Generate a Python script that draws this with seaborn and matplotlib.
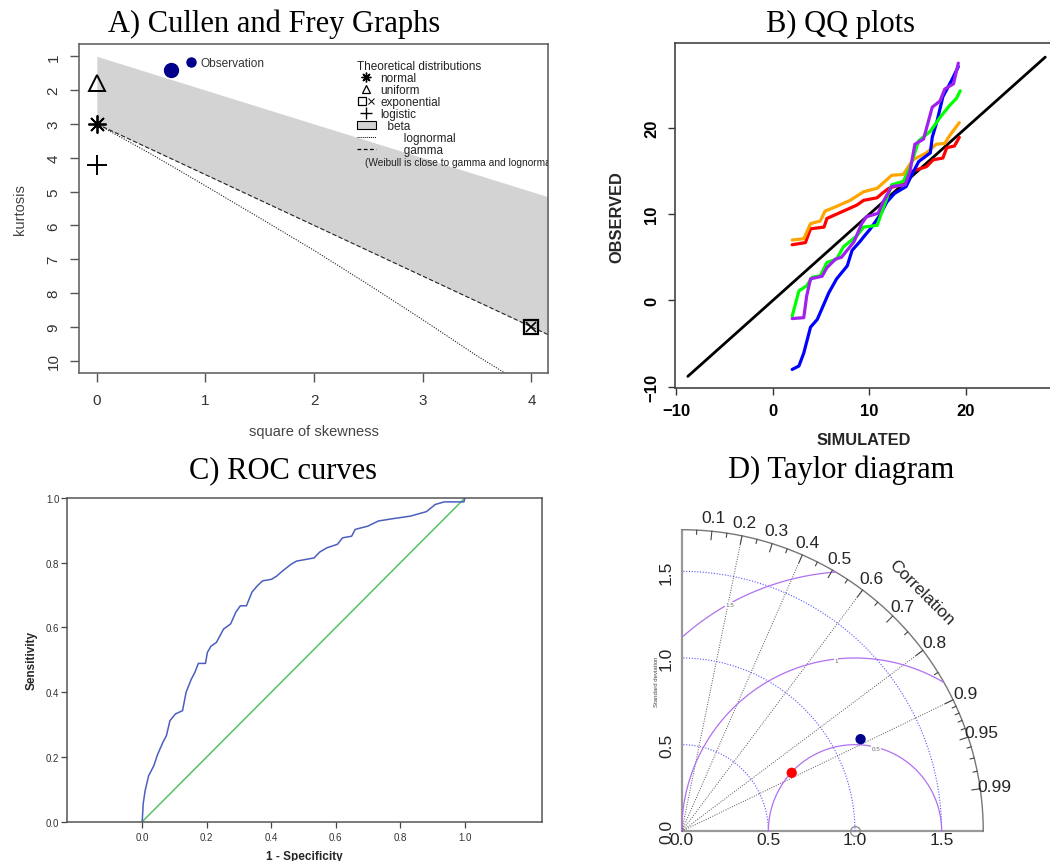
import matplotlib
matplotlib.use("Agg")
import matplotlib.pyplot as plt
import numpy as np
import seaborn as sns
from matplotlib.lines import Line2D
from matplotlib.patches import Patch
from matplotlib.legend_handler import HandlerTuple

# --------------------------------------------------------------------------- #
# Data
# --------------------------------------------------------------------------- #
# A) Cullen and Frey
obs_skew2, obs_kurt = [0.68], [1.4]
dist_names = ["normal", "uniform", "exponential", "logistic"]
dist_skew2 = [0.0, 0.0, 4.0, 0.0]
dist_kurt = [3.0, 1.8, 9.0, 4.2]
beta_x = [0.0, 4.2]
beta_upper = [1.0, 5.2]
gamma_x = [0.0, 4.2]
gamma_y = [3.0, 9.3]
lognorm_x = [0.0, 0.5, 1.0, 1.5, 2.0, 2.5, 3.0, 3.5, 3.8]
lognorm_y = [3.0, 3.89, 4.83, 5.78, 6.74, 7.75, 8.79, 9.86, 10.45]

# B) QQ plots (simulated vs observed)
qq_line = [-8.8, 28.2]
red_sim = [2.0, 3.37, 3.9, 5.3, 5.6, 7.3, 8.7, 9.4, 10.8, 11.3, 12.0, 13.5, 14.0,
           14.5, 15.9, 16.6, 17.6, 18.0, 18.8, 19.3]
red_obs = [6.45, 6.7, 8.3, 8.5, 9.5, 10.35, 11.05, 11.6, 11.9, 12.4, 13.0, 13.5,
           14.3, 15.0, 15.5, 16.3, 16.5, 17.7, 17.9, 18.9]
orange_sim = [2.0, 3.2, 3.9, 4.9, 5.4, 6.6, 8.0, 9.4, 10.8, 11.4, 12.3, 13.5, 14.5,
              15.9, 16.9, 17.8, 18.3, 19.3]
orange_obs = [7.0, 7.15, 8.9, 9.2, 10.35, 10.9, 11.6, 12.6, 13.0, 13.6, 14.5, 14.6,
              16.3, 17.1, 18.1, 18.2, 19.1, 20.6]
blue_sim = [2.0, 2.7, 3.2, 3.9, 4.6, 5.8, 6.6, 7.7, 8.2, 9.0, 9.5, 10.1, 11.1, 11.8,
            12.6, 13.8, 14.4, 15.1, 16.3, 16.5, 17.0, 17.6, 18.5, 19.2]
blue_obs = [-8.0, -7.6, -6.1, -3.1, -2.2, 0.9, 2.5, 4.0, 5.8, 6.8, 7.5, 8.3, 9.9,
            11.4, 12.4, 13.2, 14.6, 16.1, 17.1, 18.9, 20.8, 23.6, 25.5, 27.1]
green_sim = [2.0, 2.7, 3.5, 4.1, 4.9, 5.6, 6.6, 7.3, 8.7, 9.4, 10.8, 11.3, 12.3,
             13.5, 14.2, 15.1, 16.3, 17.3, 18.3, 19.0, 19.4]
green_obs = [-1.8, 1.1, 1.7, 2.7, 2.85, 4.4, 4.8, 6.2, 7.5, 8.5, 8.7, 10.3, 13.4,
             13.8, 15.4, 18.5, 19.6, 21.2, 22.6, 23.4, 24.3]
purple_sim = [2.0, 3.2, 3.5, 3.9, 5.1, 5.6, 6.5, 7.1, 8.4, 9.2, 9.7, 10.9, 11.4,
              12.3, 13.7, 14.2, 14.7, 15.6, 16.5, 17.3, 17.8, 18.7, 19.2]
purple_obs = [-2.1, -2.0, 0.5, 2.5, 2.8, 3.8, 4.8, 5.0, 6.8, 8.9, 9.7, 10.1, 11.4,
              13.2, 13.4, 15.0, 18.1, 18.7, 22.4, 23.1, 24.5, 25.1, 27.5]

# C) ROC curve
roc_fpr = [0.0, 0.003, 0.009, 0.02, 0.036, 0.047, 0.064, 0.075, 0.086, 0.103, 0.125,
           0.136, 0.152, 0.163, 0.174, 0.196, 0.202, 0.213, 0.23, 0.252, 0.274, 0.29,
           0.304, 0.323, 0.34, 0.357, 0.373, 0.401, 0.417, 0.434, 0.461, 0.478, 0.506,
           0.533, 0.55, 0.572, 0.605, 0.621, 0.649, 0.66, 0.699, 0.732, 0.776, 0.831,
           0.881, 0.908, 0.936, 0.997, 1.0]
roc_tpr = [0.0, 0.055, 0.096, 0.142, 0.173, 0.206, 0.245, 0.266, 0.312, 0.333, 0.343,
           0.40, 0.44, 0.461, 0.489, 0.489, 0.523, 0.542, 0.554, 0.595, 0.611, 0.647,
           0.667, 0.667, 0.709, 0.729, 0.744, 0.749, 0.759, 0.774, 0.795, 0.805, 0.81,
           0.815, 0.833, 0.846, 0.857, 0.877, 0.882, 0.903, 0.913, 0.929, 0.936, 0.944,
           0.958, 0.98, 0.988, 0.988, 1.0]
diag = [0.0, 1.0]

# D) Taylor diagram
ref_sd = 1.0
model_sd = [1.161, 0.719]
model_cor = [0.889, 0.883]
model_col = ["#00008B", "#FF0000"]
sd_max = 1.74
sd_ticks = [0.0, 0.5, 1.0, 1.5]
rms_levels = [0.5, 1.0, 1.5]
ray_cor = [0.2, 0.4, 0.6, 0.8, 0.9]
cor_labels = [0.1, 0.2, 0.3, 0.4, 0.5, 0.6, 0.7, 0.8, 0.9, 0.95, 0.99]

# --------------------------------------------------------------------------- #
# Style
# --------------------------------------------------------------------------- #
sns.set_theme(style="ticks")
plt.rcParams["font.family"] = ["Liberation Sans", "DejaVu Sans"]
W, H = 1050, 862
SERIF = "Liberation Serif"


def px_axes(fig, left, top, right, bottom):
    """Ejes colocados en coordenadas de pixel de la figura."""
    return fig.add_axes([left / W, 1 - bottom / H, (right - left) / W, (bottom - top) / H])


fig = plt.figure(figsize=(W / 100, H / 100), dpi=100)
fig.patch.set_facecolor("white")

title_kw = dict(family=SERIF, fontsize=22, ha="center", va="baseline", color="black")
fig.text(274 / W, 1 - 32 / H, "A) Cullen and Frey Graphs", **title_kw)
fig.text(841 / W, 1 - 32 / H, "B) QQ plots", **title_kw)
fig.text(283 / W, 1 - 478 / H, "C) ROC curves", **title_kw)
fig.text(841 / W, 1 - 478 / H, "D) Taylor diagram", **title_kw)

# --------------------------------------------------------------------------- #
# A) Cullen and Frey
# --------------------------------------------------------------------------- #
ax = px_axes(fig, 79.3, 45, 548.3, 373.7)
ax.fill_between(beta_x, beta_upper, [gamma_y[0], gamma_y[1]], color="#d3d3d3", lw=0)
sns.lineplot(x=gamma_x, y=gamma_y, ax=ax, color="#222222", lw=0.8,
             linestyle=(0, (4, 2)), sort=False, estimator=None)
sns.lineplot(x=lognorm_x, y=lognorm_y, ax=ax, color="#222222", lw=0.8,
             linestyle=(0, (1, 1.3)), sort=False, estimator=None)
ax.plot(obs_skew2, obs_kurt, "o", color="#00008B", ms=10)
marks = {"normal": dict(marker=(8, 2, 0), ms=13, mew=1.3),
         "uniform": dict(marker="^", ms=11, mfc="none", mew=1.4),
         "exponential": dict(marker="s", ms=10, mfc="none", mew=1.6),
         "logistic": dict(marker="+", ms=15, mew=1.4)}
for name, sx, ky in zip(dist_names, dist_skew2, dist_kurt):
    ax.plot(sx, ky, ls="", color="black", clip_on=False, **marks[name])
    if name == "exponential":
        ax.plot(sx, ky, ls="", marker="x", ms=7, mew=1.2, color="black")
ax.set_xlim(-0.161, 4.155)
ax.set_ylim(10.355, 0.636)
ax.set_xticks(range(5))
ax.set_yticks(range(1, 11))
ax.tick_params(axis="both", length=6.5, width=1, colors="#555555", labelsize=11,
               labelcolor="#333333")
ax.tick_params(axis="x", pad=8)
ax.tick_params(axis="y", pad=7)
for t in ax.get_yticklabels():
    t.set_rotation(90)
    t.set_va("center")
ax.set_xlabel("square of skewness", fontsize=10.5, color="#444444", labelpad=12)
ax.set_ylabel("kurtosis", fontsize=10.5, color="#444444", labelpad=14)
for s in ax.spines.values():
    s.set_color("#666666")
    s.set_linewidth(1.2)

leg1 = ax.legend(handles=[Line2D([], [], ls="", marker="o", color="#00008B", ms=6.5)],
                 labels=["Observation"], loc="upper left", bbox_to_anchor=(0.226, 0.96),
                 frameon=False, fontsize=8.6, handlelength=1, handletextpad=0.3,
                 borderpad=0, borderaxespad=0)
for t in leg1.get_texts():
    t.set_color("#333333")
ax.add_artist(leg1)
h2 = [Line2D([], [], ls="", color="black", marker=(8, 2, 0), ms=7, mew=1),
      Line2D([], [], ls="", color="black", marker="^", mfc="none", ms=6, mew=0.9),
      (Line2D([], [], ls="", color="black", marker="s", mfc="none", ms=6, mew=0.9),
       Line2D([], [], ls="", color="black", marker="x", ms=4, mew=0.7)),
      Line2D([], [], ls="", color="black", marker="+", ms=8, mew=1),
      Patch(facecolor="#d3d3d3", edgecolor="black", lw=0.8),
      Line2D([], [], color="black", lw=0.7, ls=(0, (1, 1))),
      Line2D([], [], color="black", lw=0.9, ls=(0, (3, 2)))]
leg2 = ax.legend(handles=h2,
                 labels=["normal", "uniform", "exponential", "logistic", "  beta",
                         "       lognormal", "       gamma"],
                 handler_map={tuple: HandlerTuple(ndivide=None, pad=0)},
                 title="Theoretical distributions", alignment="left",
                 loc="upper left", bbox_to_anchor=(0.592, 0.952), frameon=False,
                 fontsize=8.5, title_fontsize=8.5, labelspacing=0.0,
                 handlelength=1.6, handletextpad=0.4, borderpad=0, borderaxespad=0)
for t in leg2.get_texts() + [leg2.get_title()]:
    t.set_color("#222222")
ax.text(2.47, 4.13, "(Weibull is close to gamma and lognormal)", fontsize=7.3,
        color="#222222", va="center", clip_on=True)

# --------------------------------------------------------------------------- #
# B) QQ plots
# --------------------------------------------------------------------------- #
axb = px_axes(fig, 674.5, 44.3, 1053, 389)
sns.lineplot(x=qq_line, y=qq_line, ax=axb, color="black", lw=2, estimator=None)
qq_series = [(red_sim, red_obs, "#FF0000"), (orange_sim, orange_obs, "#FFA500"),
             (blue_sim, blue_obs, "#0000FF"), (green_sim, green_obs, "#00FF00"),
             (purple_sim, purple_obs, "#A020F0")]
for xs, ys, col in qq_series:
    sns.lineplot(x=xs, y=ys, ax=axb, color=col, lw=2.3, sort=False, estimator=None)
axb.set_xlim(-10.18, 29.0)
axb.set_ylim(-10.15, 29.8)
axb.set_xticks([-10, 0, 10, 20])
axb.set_yticks([-10, 0, 10, 20])
axb.tick_params(axis="both", length=5, width=1, colors="#333333", labelsize=12,
                labelcolor="black", pad=6)
for t in axb.get_xticklabels() + axb.get_yticklabels():
    t.set_fontweight("bold")
for t in axb.get_yticklabels():
    t.set_rotation(90)
    t.set_va("center")
axb.set_xlabel("SIMULATED", fontsize=11.8, fontweight="bold", labelpad=10)
axb.set_ylabel("OBSERVED", fontsize=11.8, fontweight="bold", labelpad=14)
for s in axb.spines.values():
    s.set_color("#444444")
    s.set_linewidth(1.2)

# --------------------------------------------------------------------------- #
# C) ROC curves
# --------------------------------------------------------------------------- #
axc = px_axes(fig, 66.7, 499, 541.7, 822.7)
sns.lineplot(x=diag, y=diag, ax=axc, color="#52C462", lw=1.1, estimator=None)
sns.lineplot(x=roc_fpr, y=roc_tpr, ax=axc, color="#4B5FBF", lw=1.1, sort=False,
             estimator=None)
axc.set_xlim(-0.234, 1.238)
axc.set_ylim(0, 1)
axc.set_xticks([0.0, 0.2, 0.4, 0.6, 0.8, 1.0])
axc.set_yticks([0.0, 0.2, 0.4, 0.6, 0.8, 1.0])
axc.xaxis.set_major_formatter(matplotlib.ticker.FormatStrFormatter("%.1f"))
axc.yaxis.set_major_formatter(matplotlib.ticker.FormatStrFormatter("%.1f"))
axc.tick_params(axis="both", length=4.5, width=0.9, colors="#444444", labelsize=7,
                labelcolor="#333333")
axc.tick_params(axis="y", pad=0.8)
axc.tick_params(axis="x", pad=3)
axc.set_xlabel("1 - Specificity", fontsize=8.5, fontweight="bold", labelpad=6)
axc.set_ylabel("Sensitivity", fontsize=8.5, fontweight="bold", labelpad=6)
for s in axc.spines.values():
    s.set_color("#555555")
    s.set_linewidth(1.1)

# --------------------------------------------------------------------------- #
# D) Taylor diagram
# --------------------------------------------------------------------------- #
axd = px_axes(fig, 640, 490, 1050, 862)
axd.set_xlim(-0.2406, 2.1252)
axd.set_ylim(-0.1714, 1.975)
axd.axis("off")
th = np.linspace(0, np.pi / 2, 300)
axd.plot([0, 0], [0, sd_max], color="#999999", lw=1.6)
axd.plot([0, sd_max], [0, 0], color="#999999", lw=1.6)
axd.plot(sd_max * np.cos(th), sd_max * np.sin(th), color="#777777", lw=1)
for r in sd_ticks[1:]:
    axd.plot(r * np.cos(th), r * np.sin(th), color="#5555FF", lw=0.8, ls=(0, (1, 1.5)))
for c in ray_cor:
    axd.plot([0, sd_max * c], [0, sd_max * np.sqrt(1 - c ** 2)], color="#555555",
             lw=0.7, ls=(0, (1, 1.5)))
for r in rms_levels:
    t = np.linspace(0, np.pi, 600)
    xs, ys = ref_sd + r * np.cos(t), r * np.sin(t)
    keep = (xs >= 0) & (np.hypot(xs, ys) <= sd_max)
    axd.plot(np.where(keep, xs, np.nan), np.where(keep, ys, np.nan), color="#B070F0", lw=0.9)
rms_lab = {0.5: (1.121, 0.479), 1.0: (0.89, 0.984), 1.5: (0.279, 1.306)}
for r, (lx, ly) in rms_lab.items():
    axd.text(lx, ly, f"{r:g}", fontsize=4.5, color="#666666", ha="center", va="center",
             bbox=dict(facecolor="white", edgecolor="none", pad=0.3))
major = [0.1, 0.2, 0.3, 0.4, 0.5, 0.6, 0.7, 0.8, 0.9, 0.95, 0.99]
minor = [0.05, 0.15, 0.25, 0.35, 0.45, 0.55, 0.65, 0.75, 0.85, 0.91, 0.92, 0.93,
         0.94, 0.96, 0.97, 0.98]
for c, ln in [(m, 0.05) for m in major] + [(m, 0.025) for m in minor]:
    s = np.sqrt(1 - c ** 2)
    axd.plot([sd_max * c, (sd_max - ln) * c], [sd_max * s, (sd_max - ln) * s],
             color="#444444", lw=0.8)
for c in cor_labels:
    s = np.sqrt(1 - c ** 2)
    axd.text(1.82 * c, 1.82 * s, f"{c:g}", fontsize=12.5, ha="center", va="center")
axd.text(1.385, 1.379, "Correlation", fontsize=12.5, rotation=-45, ha="center",
         va="center", rotation_mode="anchor")
for v in sd_ticks:
    axd.text(v, -0.05, f"{v:.1f}", fontsize=12.5, ha="center", va="center", clip_on=False)
    axd.text(-0.087, v, f"{v:.1f}", fontsize=12.5, ha="center", va="center",
             rotation=90, clip_on=False)
axd.text(-0.144, 0.869, "Standard deviation", fontsize=4.3, rotation=90, ha="center",
         va="center", color="#444444")
axd.plot([ref_sd], [0], "o", mfc="none", mec="#888888", ms=7, mew=0.9, clip_on=False)
mx = [s * c for s, c in zip(model_sd, model_cor)]
my = [s * np.sqrt(1 - c ** 2) for s, c in zip(model_sd, model_cor)]
sns.scatterplot(x=mx, y=my, ax=axd, hue=model_col, palette=model_col, s=55,
                edgecolor="none", legend=False, zorder=5)

fig.savefig("out.png", dpi=100, facecolor="white")
